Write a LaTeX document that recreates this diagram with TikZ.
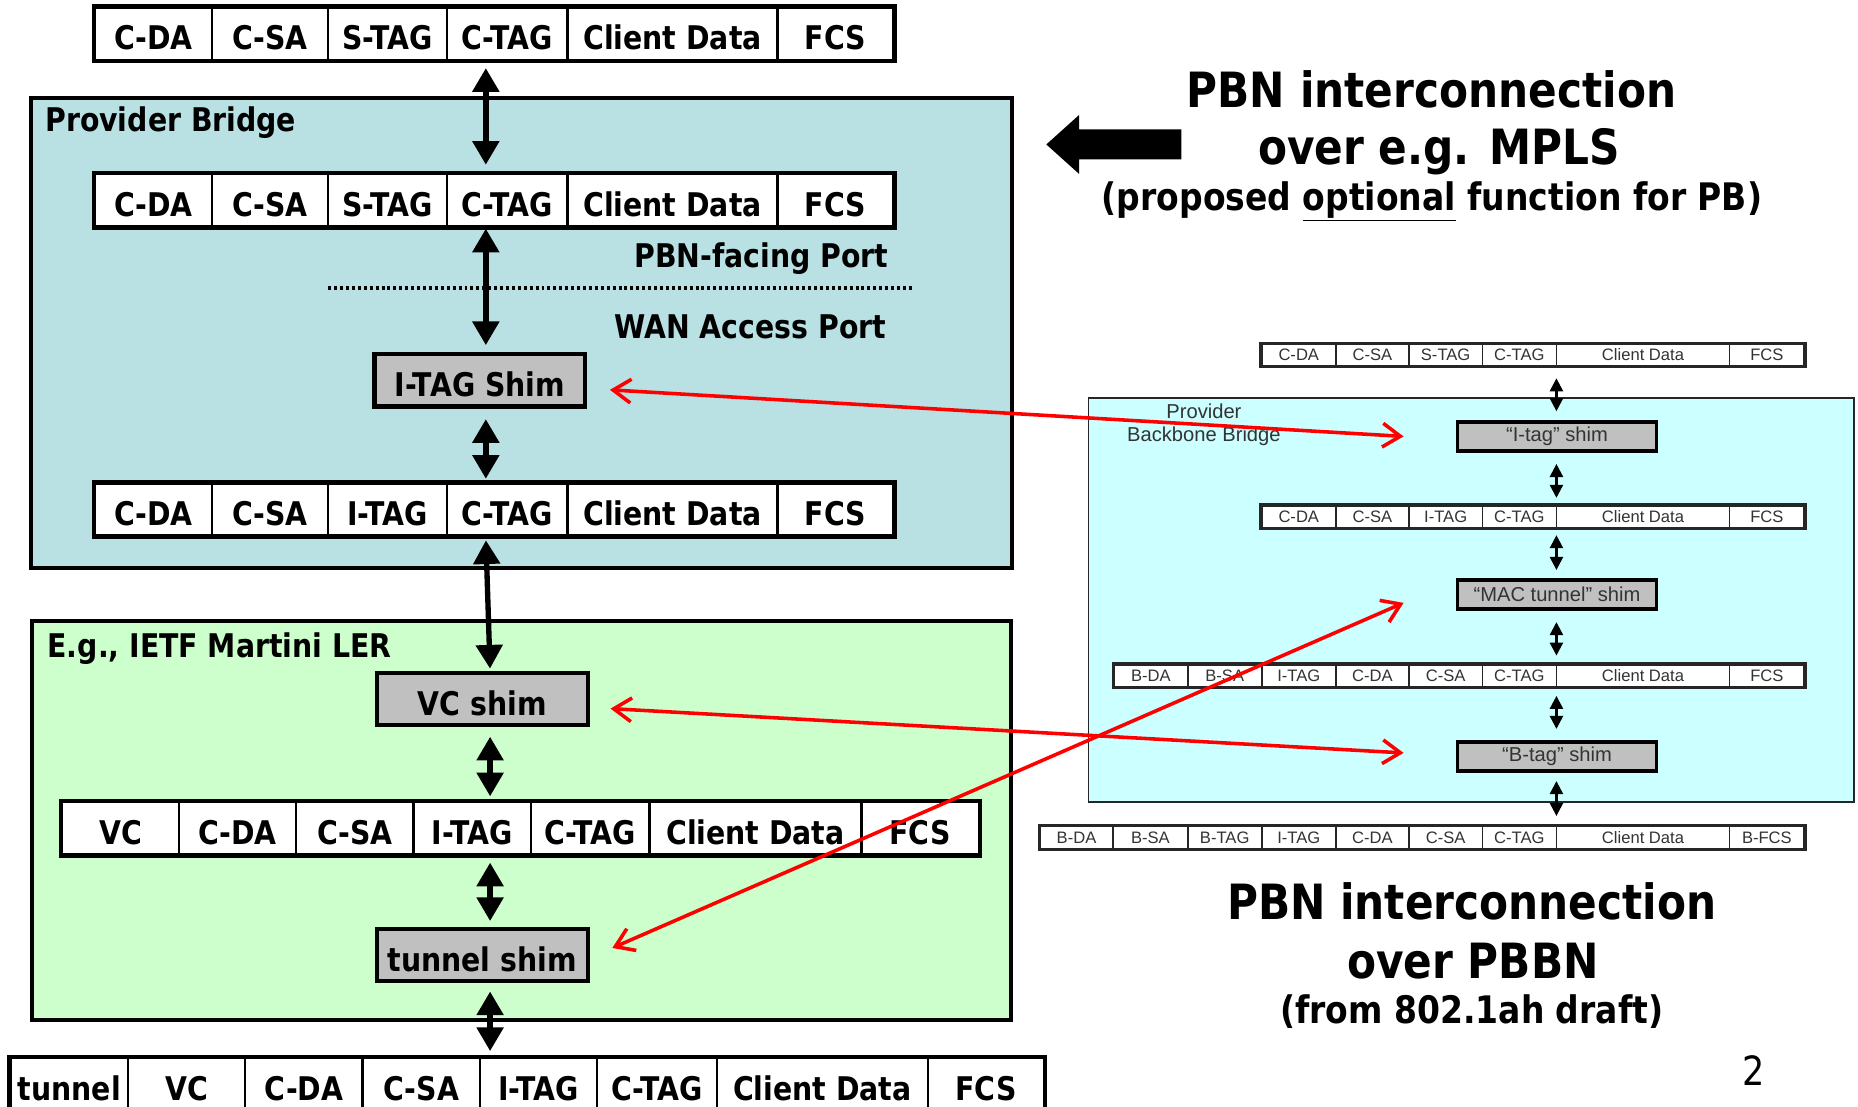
\documentclass[tikz,border=0pt]{standalone}
\usepackage{fontspec}
\newfontfamily\vfont[FakeStretch=0.87]{DejaVu Sans}
\newfontfamily\afont{Liberation Sans}
\usetikzlibrary{arrows.meta,calc}
\definecolor{pbfill}{HTML}{B9E0E3}
\definecolor{lerfill}{HTML}{CCFFCC}
\definecolor{pbbfill}{HTML}{CCFFFF}
\definecolor{shimgray}{HTML}{C0C0C0}
\newcommand\pktframe[5]{%
  \foreach \xa/\xb/\txt [count=\i] in {#5}
    \node[#4, minimum width={(\xb-\xa)*1pt}, minimum height=#3] (#1-\i) at ({(\xa+\xb)/2},#2) {\txt};
}
\begin{document}
\begin{tikzpicture}[x=1pt,y=-1pt,
 bigfont/.style={font=\vfont\bfseries\fontsize{27.5}{30}\selectfont},
 cell/.style={draw, line width=2pt, fill=white, inner sep=0pt, text height=27pt, text depth=0pt, bigfont},
 outerL/.style={draw, line width=3.5pt},
 scell/.style={draw=black!85, line width=1.5pt, fill=white, inner sep=0pt, text height=10pt, text depth=0pt, font=\afont\fontsize{14}{16}\selectfont, text=black!80},
 outerS/.style={draw=black!85, line width=2.5pt},
 shim/.style={draw, line width=3.5pt, fill=shimgray, inner sep=0pt, minimum width=178pt, minimum height=44pt, text height=27pt, text depth=0pt, bigfont},
 sshim/.style={draw, line width=3pt, fill=shimgray, inner sep=0pt, minimum width=168pt, minimum height=24.5pt, font=\afont\fontsize{17}{19}\selectfont, text=black!80},
 bk/.style={line width=4.5pt, {Triangle[length=20pt,width=22pt]}-{Triangle[length=20pt,width=22pt]}},
 sbk/.style={line width=2pt, {Triangle[length=11pt,width=11pt]}-{Triangle[length=11pt,width=11pt]}},
 rdarrow/.style={red, line width=3pt, {Straight Barb[length=15pt,width=20pt]}-{Straight Barb[length=15pt,width=20pt]}},
 lbl/.style={font=\vfont\bfseries\fontsize{27.5}{30}\selectfont, inner sep=0pt},
 ttl/.style={font=\vfont\bfseries\fontsize{41}{46}\selectfont, inner sep=0pt},
 sttl/.style={font=\vfont\bfseries\fontsize{32}{36}\selectfont, inner sep=0pt},
 slbl/.style={font=\afont\fontsize{17}{19}\selectfont, text=black!80, inner sep=0pt},
]
\useasboundingbox (0,0) rectangle (1568,934);

% ---------- containers ----------
\node[draw, line width=3.5pt, fill=pbfill, minimum width=828pt, minimum height=396pt] (pbbox) at (440,281) {};
\node[draw, line width=3.5pt, fill=lerfill, minimum width=826pt, minimum height=336.6pt] (lerbox) at (440,692.3) {};
\node[draw=black!85, line width=1.5pt, fill=pbbfill, minimum width=645.8pt, minimum height=340.9pt] (pbbbox) at (1241.5,506.05) {};

\node[lbl, anchor=base west] (pblbl) at (38,111) {Provider Bridge};
\node[lbl, anchor=base west] (lerlbl) at (40,555) {E.g., IETF Martini LER};
\node[lbl, anchor=base east] (pbnport) at (750,226) {PBN-facing Port};
\node[lbl, anchor=base east] (wanport) at (748,286) {WAN Access Port};
\coordinate (dl1) at (277,243);
\coordinate (dl2) at (771,243);
\draw[line width=3pt, dash pattern=on 2.5pt off 2.5pt] (dl1) -- (dl2);

% ---------- left frames ----------
\pktframe{fa}{28.5}{44pt}{cell}{80/179/C-DA,179/277/C-SA,277/377/S-TAG,377/479/C-TAG,479/656/Client Data,656/754/FCS}
\draw[outerL] (fa-1.north west) rectangle (fa-6.south east);
\pktframe{fb}{169}{44pt}{cell}{80/179/C-DA,179/277/C-SA,277/377/S-TAG,377/479/C-TAG,479/656/Client Data,656/754/FCS}
\draw[outerL] (fb-1.north west) rectangle (fb-6.south east);
\pktframe{fc}{430}{44pt}{cell}{80/179/C-DA,179/277/C-SA,277/377/I-TAG,377/479/C-TAG,479/656/Client Data,656/754/FCS}
\draw[outerL] (fc-1.north west) rectangle (fc-6.south east);
\pktframe{fd}{699}{44pt}{cell}{52.5/151/VC,151/250/C-DA,250/349/C-SA,349/448/I-TAG,448/548/C-TAG,548/727/Client Data,727/826/FCS}
\draw[outerL] (fd-1.north west) rectangle (fd-7.south east);
\pktframe{fe}{915}{44pt}{cell}{9/108/tunnel,108/207/VC,207/306/C-DA,306/405/C-SA,405/504/I-TAG,504/605/C-TAG,605/783/Client Data,783/881/FCS}
\draw[outerL] (fe-1.north west) rectangle (fe-8.south east);

% ---------- left shims ----------
\node[shim] (itag) at (405,321) {I-TAG Shim};
\node[shim] (vcshim) at (407,590) {VC shim};
\node[shim] (tun) at (407,806) {tunnel shim};

% ---------- left arrows ----------
\coordinate (ax) at (410,0);
\coordinate (bx) at (413.6,0);
\draw[bk, shorten <=6pt, shorten >=7pt] (ax |- fa-1.south) -- (ax |- fb-1.north);
\draw[bk, shorten <=1pt, shorten >=6pt] (ax |- fb-1.south) -- (ax |- itag.north);
\draw[bk, shorten <=9pt, shorten >=3pt] (ax |- itag.south) -- (ax |- fc-1.north);
\draw[bk, shorten <=3pt, shorten >=2pt] (ax |- fc-1.south) -- (bx |- vcshim.north);
\draw[bk, shorten <=8pt, shorten >=4pt] (bx |- vcshim.south) -- (bx |- fd-1.north);
\draw[bk, shorten <=6pt, shorten >=5pt] (bx |- fd-1.south) -- (bx |- tun.north);
\draw[bk, shorten <=7pt, shorten >=5pt] (bx |- tun.south) -- (bx |- fe-1.north);

% ---------- right panel ----------
\node[slbl, anchor=base] (pbbl1) at (1016,353.3) {Provider};
\node[slbl, anchor=base] (pbbl2) at (1016,372.6) {Backbone Bridge};

\pktframe{ra}{299.5}{18pt}{scell}{1064.8/1127.3/C-DA,1127.3/1189/C-SA,1189/1251/S-TAG,1251/1313.5/C-TAG,1313.5/1459.6/Client Data,1459.6/1522.6/FCS}
\draw[outerS] (ra-1.north west) rectangle (ra-6.south east);
\pktframe{rb}{436.15}{18.5pt}{scell}{1064.8/1127.3/C-DA,1127.3/1189/C-SA,1189/1251/I-TAG,1251/1313.5/C-TAG,1313.5/1459.6/Client Data,1459.6/1522.6/FCS}
\draw[outerS] (rb-1.north west) rectangle (rb-6.south east);
\pktframe{rc}{570.25}{18.5pt}{scell}{940.2/1002.3/B-DA,1002.3/1064.8/B-SA,1064.8/1127.3/I-TAG,1127.3/1189/C-DA,1189/1251/C-SA,1251/1313.5/C-TAG,1313.5/1459.6/Client Data,1459.6/1522.6/FCS}
\draw[outerS] (rc-1.north west) rectangle (rc-8.south east);
\pktframe{rd}{706.85}{19pt}{scell}{877.7/939.3/B-DA,939.3/1002.3/B-SA,1002.3/1064.8/B-TAG,1064.8/1127.3/I-TAG,1127.3/1189/C-DA,1189/1251/C-SA,1251/1313.5/C-TAG,1313.5/1459.6/Client Data,1459.6/1522.6/B-FCS}
\draw[outerS] (rd-1.north west) rectangle (rd-9.south east);

\node[sshim] (rs1) at (1314,368.3) {“I-tag” shim};
\node[sshim] (rs2) at (1314,501.75) {“MAC tunnel” shim};
\node[sshim] (rs3) at (1314,638.4) {“B-tag” shim};

\coordinate (rx) at (1313.5,0);
\draw[sbk, shorten <=10pt, shorten >=7.5pt] (rx |- ra-1.south) -- (rx |- rs1.north);
\draw[sbk, shorten <=9.5pt, shorten >=6pt] (rx |- rs1.south) -- (rx |- rb-1.north);
\draw[sbk, shorten <=5.5pt, shorten >=7pt] (rx |- rb-1.south) -- (rx |- rs2.north);
\draw[sbk, shorten <=9.5pt, shorten >=7pt] (rx |- rs2.south) -- (rx |- rc-1.north);
\draw[sbk, shorten <=7pt, shorten >=9.5pt] (rx |- rc-1.south) -- (rx |- rs3.north);
\draw[sbk, shorten <=7pt, shorten >=8pt] (rx |- rs3.south) -- (rx |- rd-1.north);

% ---------- titles ----------
\fill (997,109.2) -- (910.7,109.2) -- (910.7,97) -- (883,121.9) -- (910.7,146.8) -- (910.7,134.5) -- (997,134.5) -- cycle;
\node[ttl, anchor=base] (t1) at (1208,91) {PBN interconnection};
\node[ttl, anchor=base] (t2) at (1214.5,139) {over e.g. MPLS};
\node[sttl, anchor=base] (t3) at (1208.5,177.5) {(proposed \underline{optional} function for PB)};
\node[ttl, anchor=base] (b1) at (1242,776) {PBN interconnection};
\node[ttl, anchor=base] (b2) at (1243,826) {over PBBN};
\node[sttl, anchor=base] (b3) at (1242,864) {(from 802.1ah draft)};
\node[font=\vfont\fontsize{34}{36}\selectfont, anchor=base, inner sep=0pt] (pg) at (1480,916) {2};

% ---------- red connectors ----------
\draw[rdarrow] ([shift={(19,8)}]itag.east) -- ([shift={(-44,0)}]rs1.west);
\draw[rdarrow] ([shift={(17.5,8)}]vcshim.east) -- ([shift={(-44,-3)}]rs3.west);
\draw[rdarrow] ([shift={(19,-6)}]tun.east) -- ([shift={(-44,7)}]rs2.west);
\end{tikzpicture}
\end{document}
